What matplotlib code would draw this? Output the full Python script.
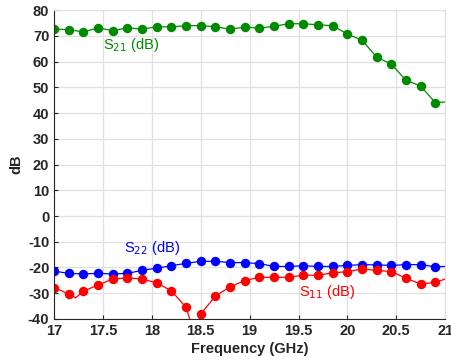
import numpy as np
import matplotlib
matplotlib.use("Agg")
import matplotlib.pyplot as plt

plt.rcParams['font.family'] = ['Liberation Sans', 'DejaVu Sans']
plt.rcParams['axes.unicode_minus'] = False

# marker frequencies (GHz)
freq = [17.0, 17.15, 17.3, 17.45, 17.6, 17.75, 17.9, 18.05, 18.2, 18.35, 18.5,
        18.65, 18.8, 18.95, 19.1, 19.25, 19.4, 19.55, 19.7, 19.85, 20.0, 20.15,
        20.3, 20.45, 20.6, 20.75, 20.9]

s21 = [72.6, 72.4, 71.5, 73.1, 72.0, 73.1, 72.6, 73.5, 73.5, 73.9, 74.0,
       73.5, 72.6, 73.4, 73.0, 73.7, 74.7, 74.7, 74.3, 73.9, 70.7, 68.3,
       61.7, 59.0, 52.7, 50.5, 44.0]
s22 = [-21.4, -22.3, -22.5, -22.3, -22.5, -22.3, -21.1, -20.3, -19.3, -18.4, -17.6,
       -17.6, -18.1, -18.1, -18.5, -19.6, -19.6, -19.3, -19.6, -19.6, -19.2, -18.9,
       -19.0, -19.2, -18.9, -18.9, -19.7]
s11 = [-27.8, -30.3, -29.2, -26.8, -24.5, -24.0, -24.5, -26.0, -29.1, -35.5, -38.1,
       -31.1, -27.5, -25.1, -23.8, -23.8, -23.8, -23.0, -23.0, -22.1, -21.6, -20.6,
       -21.1, -21.6, -24.2, -26.4, -25.8]

# extra line samples between the markers (dips and the end at 21 GHz)
s21_extra_f = [21.0]
s21_extra = [44.3]
s22_extra_f = [21.0]
s22_extra = [-19.6]
s11_extra_f = [17.22, 18.42, 18.46, 21.0]
s11_extra = [-31.8, -44.0, -43.0, -24.5]


def line_data(f, v, ef, ev):
    pts = sorted(zip(list(f) + list(ef), list(v) + list(ev)))
    return [p[0] for p in pts], [p[1] for p in pts]


green = '#008a00'
blue = '#0000ff'
red = '#ff0000'

fig = plt.figure(figsize=(4.51, 3.6), dpi=100)
ax = fig.add_axes([0.12, 0.114, 0.867, 0.858])

for f_, v_, ef, ev, c in [(freq, s21, s21_extra_f, s21_extra, green),
                           (freq, s22, s22_extra_f, s22_extra, blue),
                           (freq, s11, s11_extra_f, s11_extra, red)]:
    lx, ly = line_data(f_, v_, ef, ev)
    ax.plot(lx, ly, color=c, linewidth=0.9)
    ax.plot(f_, v_, 'o', color=c, markersize=6.8, markeredgewidth=0)

ax.text(17.5, 66.5, 'S$_{21}$ (dB)', color=green, fontsize=10.5, va='center', ha='left')
ax.text(17.71, -12.3, 'S$_{22}$ (dB)', color=blue, fontsize=10.5, va='center', ha='left')
ax.text(19.5, -29.4, 'S$_{11}$ (dB)', color=red, fontsize=10.5, va='center', ha='left')

ax.set_xlim(17, 21)
ax.set_ylim(-40, 80)
ax.set_xticks(np.arange(17, 21.01, 0.5))
ax.set_xticklabels(['17', '17.5', '18', '18.5', '19', '19.5', '20', '20.5', '21'])
ax.set_yticks(np.arange(-40, 81, 10))
ax.grid(True, color='#e0e0e0', linewidth=0.9)
ax.set_axisbelow(True)
ax.tick_params(direction='in', length=3, labelsize=10.5, colors='#262626', width=0.8)
for lab in ax.get_xticklabels() + ax.get_yticklabels():
    lab.set_fontweight('bold')
for s in ['top', 'right']:
    ax.spines[s].set_color('#e0e0e0')
for s in ['left', 'bottom']:
    ax.spines[s].set_color('#262626')
    ax.spines[s].set_linewidth(0.8)

ax.set_xlabel('Frequency (GHz)', fontsize=10.5, fontweight='bold', color='#262626', labelpad=3)
ax.set_ylabel('dB', fontsize=10.5, fontweight='bold', color='#262626', labelpad=3)

fig.savefig('out.png', dpi=100)
